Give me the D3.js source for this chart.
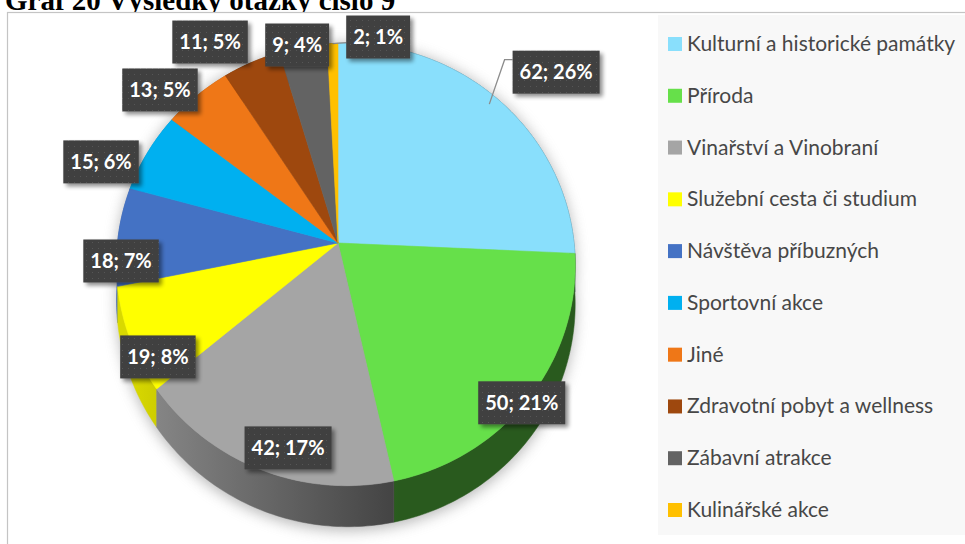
<!DOCTYPE html>
<html>
<head>
<meta charset="utf-8">
<script src="https://cdn.jsdelivr.net/npm/d3@7"></script>
<style>
  html, body { margin: 0; padding: 0; background: #ffffff; overflow: hidden; }
  svg { display: block; }
</style>
</head>
<body>
<svg id="chart" width="965" height="544"></svg>
<script>
// ---------------- data ----------------
const title = "Graf 20 Výsledky otázky číslo 9";
const categories = [
  "Kulturní a historické památky",
  "Příroda",
  "Vinařství a Vinobraní",
  "Služební cesta či studium",
  "Návštěva příbuzných",
  "Sportovní akce",
  "Jiné",
  "Zdravotní pobyt a wellness",
  "Zábavní atrakce",
  "Kulinářské akce"
];
const values = [62, 50, 42, 19, 18, 15, 13, 11, 9, 2];
const colors = ["#89dffc", "#66e04a", "#a5a5a5", "#ffff00", "#4472c4",
                "#00b0f0", "#ef7717", "#9e480e", "#636363", "#ffc000"];

// label placement (disk radius factor, angle shift in degrees from slice middle)
const labelRadius = [1.29, 0.99, 0.887, 0.924, 0.979, 1.188, 1.157, 1.206, 1.017, 1.046];
const labelShift  = [4.5, 2.2, -5.5, -7.6, -6.8, -6.9, -5.6, -6.8, -1.5, 12.1];

// ---------------- layout ----------------
const svg = d3.select("#chart");
const CX = 338, CY = 243, S = 228, T = 219, K = 0.097, M = 0.034, DEPTH = 37;

function proj(r, a) {
  const u = r * Math.sin(a), v = -r * Math.cos(a);
  const w = 1 - K * v - M * u;
  return [CX + S * u / w, CY + T * v / w, w];
}
function arcPts(r, a0, a1) {
  const n = Math.max(2, Math.ceil((a1 - a0) / (Math.PI / 180)));
  return d3.range(n + 1).map(i => proj(r, a0 + (a1 - a0) * i / n));
}
const line = d3.line().x(d => d[0]).y(d => d[1]);

const defs = svg.append("defs");
const shadowF = defs.append("filter").attr("id", "pieShadow")
  .attr("x", "-20%").attr("y", "-20%").attr("width", "140%").attr("height", "140%");
shadowF.append("feGaussianBlur").attr("stdDeviation", 7);

const boxF = defs.append("filter").attr("id", "boxShadow")
  .attr("x", "-20%").attr("y", "-20%").attr("width", "150%").attr("height", "150%");
boxF.append("feGaussianBlur").attr("in", "SourceAlpha").attr("stdDeviation", 2).attr("result", "b");
boxF.append("feOffset").attr("in", "b").attr("dx", 3).attr("dy", 3).attr("result", "o");
boxF.append("feComponentTransfer").attr("in", "o").attr("result", "o2")
  .append("feFuncA").attr("type", "linear").attr("slope", 0.45);
const mg = boxF.append("feMerge");
mg.append("feMergeNode").attr("in", "o2");
mg.append("feMergeNode").attr("in", "SourceGraphic");

const pat = defs.append("pattern").attr("id", "dots").attr("patternUnits", "userSpaceOnUse")
  .attr("width", 6).attr("height", 6);
pat.append("rect").attr("width", 6).attr("height", 6).attr("fill", "#404040");
pat.append("rect").attr("x", 2).attr("y", 2).attr("width", 1).attr("height", 1).attr("fill", "#565656");

// title (the reference shows it cropped at the top edge)
svg.append("text").attr("x", 5).attr("y", 10)
  .attr("font-family", "Liberation Serif, Times New Roman, serif")
  .attr("font-weight", "bold").attr("font-size", 29).attr("fill", "#000")
  .text(title);

// chart frame & legend background
svg.append("rect").attr("x", 7.5).attr("y", 12.5).attr("width", 1000).attr("height", 600)
  .attr("fill", "#ffffff").attr("stroke", "#c4c4c4").attr("stroke-width", 1.2);
svg.append("rect").attr("x", 658).attr("y", 15).attr("width", 320).attr("height", 520)
  .attr("fill", "#f8f8f8");

// ---------------- pie ----------------
const pie = d3.pie().sort(null).value(d => d).startAngle(0).endAngle(2 * Math.PI);
const arcs = pie(values);

// shadow
const full = arcPts(1, 0, 2 * Math.PI);
const shadowPts = full.map(p => [p[0], p[1] + DEPTH / p[2] + 4]);
const gShadow = svg.append("g").attr("filter", "url(#pieShadow)").attr("opacity", 0.6);
gShadow.append("path").attr("d", line(full) + "Z").attr("fill", "#8a8a8a");
gShadow.append("path").attr("d", line(shadowPts) + "Z").attr("fill", "#8a8a8a");

// side walls
const gSide = svg.append("g");
const sides = arcs.map((a, i) => {
  const top = arcPts(1, a.startAngle, a.endAngle);
  const bot = top.map(p => [p[0], p[1] + DEPTH / p[2]]).reverse();
  const midV = -Math.cos((a.startAngle + a.endAngle) / 2);
  return { i, pts: top.concat(bot), midV };
}).sort((a, b) => a.midV - b.midV);

sides.forEach(sd => {
  const c = d3.color(colors[sd.i]);
  const gid = "sideGrad" + sd.i;
  const lg = defs.append("linearGradient").attr("id", gid)
    .attr("gradientUnits", "userSpaceOnUse")
    .attr("x1", 130).attr("y1", 0).attr("x2", 400).attr("y2", 0);
  const c1 = d3.rgb(c.r * 0.85, c.g * 0.85, c.b * 0.85);
  const c2 = d3.rgb(c.r * 0.40, c.g * 0.40, c.b * 0.40);
  lg.append("stop").attr("offset", 0).attr("stop-color", c1);
  lg.append("stop").attr("offset", 1).attr("stop-color", c2);
  gSide.append("path").attr("d", line(sd.pts) + "Z")
    .attr("fill", `url(#${gid})`).attr("stroke", `url(#${gid})`).attr("stroke-width", 0.5);
});

// top faces
const gTop = svg.append("g");
arcs.forEach((a, i) => {
  const pts = [proj(0, 0)].concat(arcPts(1, a.startAngle, a.endAngle));
  gTop.append("path").attr("d", line(pts) + "Z")
    .attr("fill", colors[i]).attr("stroke", colors[i]).attr("stroke-width", 0.6);
});

// ---------------- data labels ----------------
const total = d3.sum(values);
const gLab = svg.append("g");
arcs.forEach((a, i) => {
  const mid = (a.startAngle + a.endAngle) / 2;
  const ang = mid + labelShift[i] * Math.PI / 180;
  const p = proj(labelRadius[i], ang);
  const txt = `${values[i]}; ${Math.round(values[i] / total * 100)}%`;
  const g = gLab.append("g");
  const t = g.append("text").attr("x", p[0]).attr("y", p[1] + 7)
    .attr("text-anchor", "middle")
    .attr("font-family", "Lato, 'Open Sans', sans-serif")
    .attr("font-weight", "bold").attr("font-size", 20).attr("fill", "#ffffff")
    .text(txt);
  const tw = t.node().getComputedTextLength();
  const bw = tw + 14, bh = 43;
  const bx = p[0] - bw / 2, by = p[1] - bh / 2;
  g.insert("rect", "text").attr("x", bx).attr("y", by).attr("width", bw).attr("height", bh)
    .attr("fill", "url(#dots)").attr("filter", "url(#boxShadow)");
  // leader lines for labels placed away from their slice
  if (i === 0) {
    const s = proj(0.955, mid);
    gLab.insert("path", ":first-child")
      .attr("d", line([[s[0], s[1]], [bx - 8, by + 9], [bx, by + 9]]))
      .attr("fill", "none").attr("stroke", "#8c8c8c").attr("stroke-width", 1.3);
  }
  if (i === values.length - 1) {
    const s = proj(1, mid);
    gLab.insert("path", ":first-child")
      .attr("d", line([[s[0], s[1]], [bx, s[1] - 1]]))
      .attr("fill", "none").attr("stroke", "#8c8c8c").attr("stroke-width", 1.3);
  }
});

// ---------------- legend ----------------
const ly = d3.scalePoint().domain(categories).range([44, 510]);
const gLeg = svg.append("g");
categories.forEach((c, i) => {
  const y = ly(c);
  gLeg.append("rect").attr("x", 668).attr("y", y - 7).attr("width", 14).attr("height", 14)
    .attr("fill", colors[i]);
  gLeg.append("text").attr("x", 687).attr("y", y + 7)
    .attr("font-family", "Lato, 'Open Sans', sans-serif")
    .attr("font-size", 21).attr("fill", "#474747")
    .text(c);
});
</script>
</body>
</html>
